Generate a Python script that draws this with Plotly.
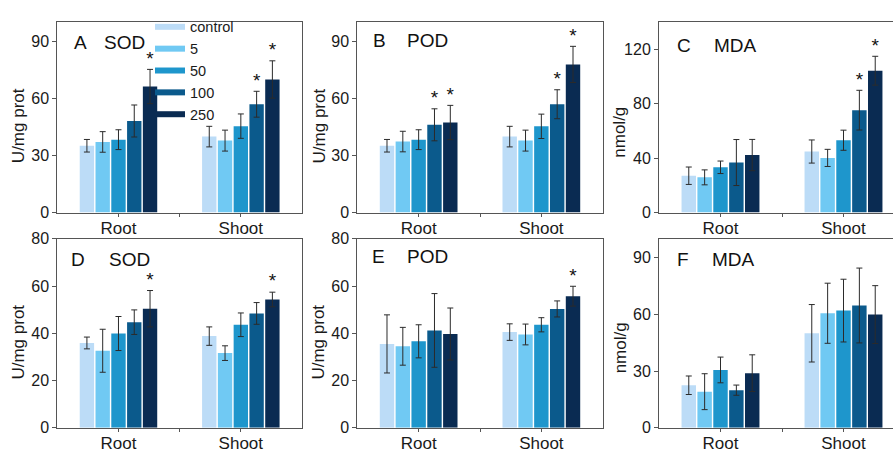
import plotly.graph_objects as go

# ---------------- data ----------------
groups = ["Root", "Shoot"]
series = ["control", "5", "50", "100", "250"]
colors = ["#bcdcf7", "#70c9f3", "#1e96cc", "#0b5a8c", "#0a2b52"]

# Panel A  SOD
A_root = [35.1, 37.1, 38.3, 48.1, 66.2]
A_root_err = [3.3, 5.4, 5.2, 8.4, 9.0]
A_shoot = [39.9, 37.8, 45.4, 56.9, 69.9]
A_shoot_err = [5.4, 5.5, 6.4, 6.8, 9.8]
A_root_sig = [0, 0, 0, 0, 1]
A_shoot_sig = [0, 0, 0, 1, 1]

# Panel B  POD
B_root = [35.1, 37.3, 38.3, 46.1, 47.3]
B_root_err = [3.3, 5.4, 5.2, 8.4, 9.0]
B_shoot = [39.9, 37.8, 45.3, 56.9, 77.8]
B_shoot_err = [5.4, 5.5, 6.4, 7.6, 9.5]
B_root_sig = [0, 0, 0, 1, 1]
B_shoot_sig = [0, 0, 0, 1, 1]

# Panel C  MDA
C_root = [27.1, 25.9, 33.3, 36.8, 42.3]
C_root_err = [6.4, 5.5, 4.6, 16.9, 11.5]
C_shoot = [44.9, 40.2, 53.2, 75.3, 104.3]
C_shoot_err = [8.5, 6.3, 7.4, 14.6, 10.6]
C_root_sig = [0, 0, 0, 0, 0]
C_shoot_sig = [0, 0, 0, 1, 1]

# Panel D  SOD
D_root = [35.9, 32.6, 39.9, 44.7, 50.4]
D_root_err = [2.5, 9.1, 7.2, 5.2, 7.7]
D_shoot = [38.8, 31.6, 43.6, 48.4, 54.3]
D_shoot_err = [3.9, 3.1, 5.0, 4.6, 3.1]
D_root_sig = [0, 0, 0, 0, 1]
D_shoot_sig = [0, 0, 0, 0, 1]

# Panel E  POD
E_root = [35.5, 34.5, 36.6, 41.2, 39.7]
E_root_err = [12.3, 8.0, 7.0, 15.6, 11.0]
E_shoot = [40.5, 39.5, 43.6, 50.3, 55.7]
E_shoot_err = [3.5, 4.4, 3.0, 3.4, 4.2]
E_root_sig = [0, 0, 0, 0, 0]
E_shoot_sig = [0, 0, 0, 0, 1]

# Panel F  MDA
F_root = [22.5, 19.1, 30.6, 19.9, 28.9]
F_root_err = [4.9, 9.5, 6.8, 2.7, 9.7]
F_shoot = [50.0, 60.6, 62.0, 64.7, 59.9]
F_shoot_err = [15.2, 15.9, 16.6, 19.8, 15.3]
F_root_sig = [0, 0, 0, 0, 0]
F_shoot_sig = [0, 0, 0, 0, 0]

panels = [
    dict(letter="A", name="SOD", root=A_root, rerr=A_root_err, shoot=A_shoot, serr=A_shoot_err,
         rsig=A_root_sig, ssig=A_shoot_sig, yrange=[0, 100], ytick=[0, 30, 60, 90], ytitle="U/mg prot"),
    dict(letter="B", name="POD", root=B_root, rerr=B_root_err, shoot=B_shoot, serr=B_shoot_err,
         rsig=B_root_sig, ssig=B_shoot_sig, yrange=[0, 100], ytick=[0, 30, 60, 90], ytitle="U/mg prot"),
    dict(letter="C", name="MDA", root=C_root, rerr=C_root_err, shoot=C_shoot, serr=C_shoot_err,
         rsig=C_root_sig, ssig=C_shoot_sig, yrange=[0, 140], ytick=[0, 40, 80, 120], ytitle="nmol/g"),
    dict(letter="D", name="SOD", root=D_root, rerr=D_root_err, shoot=D_shoot, serr=D_shoot_err,
         rsig=D_root_sig, ssig=D_shoot_sig, yrange=[0, 80], ytick=[0, 20, 40, 60, 80], ytitle="U/mg prot"),
    dict(letter="E", name="POD", root=E_root, rerr=E_root_err, shoot=E_shoot, serr=E_shoot_err,
         rsig=E_root_sig, ssig=E_shoot_sig, yrange=[0, 80], ytick=[0, 20, 40, 60, 80], ytitle="U/mg prot"),
    dict(letter="F", name="MDA", root=F_root, rerr=F_root_err, shoot=F_shoot, serr=F_shoot_err,
         rsig=F_root_sig, ssig=F_shoot_sig, yrange=[0, 100], ytick=[0, 30, 60, 90], ytitle="nmol/g"),
]

# ---------------- layout geometry ----------------
W, H = 893, 457
FONT = "Arial, 'Liberation Sans', sans-serif"
xdom_px = [(57.3, 302.0), (357.3, 602.7), (659.0, 893.0)]
ydom_px = [(14.7, 212.5), (239.7, 436.0)]
cat_px = [122.35, 122.7, 123.0]  # pixel width of one category slot
ytitle_px = [(19.2, 122.5), (319.0, 123.0), (619.5, 129.0),
             (19.0, 347.5), (319.0, 347.5), (620.5, 353.0)]
letter_pos = [(0.060, 0.183, 0.894), (0.056, 0.194, 0.904), (0.069, 0.226, 0.877),
              (0.049, 0.203, 0.889), (0.052, 0.194, 0.906), (0.069, 0.216, 0.892)]

slot = 0.129          # bar slot width in category units
barw = slot * 0.91    # visible bar width
fig = go.Figure()

for p, pn in enumerate(panels):
    row, col = divmod(p, 3)
    k = p + 1
    xa = "x" if k == 1 else f"x{k}"
    ya = "y" if k == 1 else f"y{k}"
    for i, s in enumerate(series):
        off = (i - 2) * slot
        xs = [g + off for g in range(len(groups))]
        ys = [pn["root"][i], pn["shoot"][i]]
        es = [pn["rerr"][i], pn["serr"][i]]
        fig.add_trace(go.Bar(
            x=xs, y=ys, width=barw, xaxis=xa, yaxis=ya,
            marker=dict(color=colors[i], line=dict(width=0)),
            error_y=dict(type="data", array=es, visible=True, color="#2b2b2b",
                         thickness=1, width=3),
            showlegend=False, name=s))
        sig = [pn["rsig"][i], pn["ssig"][i]]
        sx = [xs[j] for j in range(2) if sig[j]]
        sy = [ys[j] + es[j] for j in range(2) if sig[j]]
        if sx:
            fig.add_trace(go.Scatter(
                x=sx, y=sy, mode="text", text=["*"] * len(sx), textposition="top center",
                textfont=dict(size=19, color="#111", family=FONT),
                xaxis=xa, yaxis=ya, showlegend=False, hoverinfo="skip"))

    x0, x1 = xdom_px[col]
    y0, y1 = ydom_px[row]
    ncat = (x1 - x0) / cat_px[col]
    common = dict(showline=True, linecolor="#555", linewidth=1, ticks="outside",
                  tickcolor="#555", zeroline=False, showgrid=False)
    fig.layout[("xaxis" if k == 1 else f"xaxis{k}")] = dict(
        domain=[x0 / W, x1 / W], anchor=ya, range=[-0.5, -0.5 + ncat],
        tickvals=[0, 1], ticktext=groups, mirror=True, ticklen=3,
        ticklabelstandoff=-3,
        minor=dict(tickvals=[0.5], ticks="outside", ticklen=3, tickcolor="#555"),
        tickfont=dict(size=17, color="#1a1a1a", family=FONT), **common)
    fig.layout[("yaxis" if k == 1 else f"yaxis{k}")] = dict(
        domain=[1 - y1 / H, 1 - y0 / H], anchor=xa, range=pn["yrange"],
        tickvals=pn["ytick"], mirror=(col != 2), ticklen=4,
        tickfont=dict(size=16, color="#1a1a1a", family=FONT), **common)
    tx, ty = ytitle_px[p]
    fig.add_annotation(text=pn["ytitle"], xref="paper", yref="paper",
                       x=tx / W, y=1 - ty / H, xanchor="center", yanchor="middle",
                       textangle=-90, showarrow=False,
                       font=dict(size=17, color="#1a1a1a", family=FONT))
    lx, nx, ly = letter_pos[p]
    fig.add_annotation(text=pn["letter"], xref=f"{xa} domain", yref=f"{ya} domain",
                       x=lx, y=ly, xanchor="left", yanchor="middle", showarrow=False,
                       font=dict(size=19, color="#111", family=FONT))
    fig.add_annotation(text=pn["name"], xref=f"{xa} domain", yref=f"{ya} domain",
                       x=nx, y=ly, xanchor="left", yanchor="middle", showarrow=False,
                       font=dict(size=19, color="#111", family=FONT))

# legend entries (dummy line traces so keys look like short thick bars)
for i, s in enumerate(series):
    fig.add_trace(go.Scatter(x=[None], y=[None], mode="lines", name=s,
                             line=dict(color=colors[i], width=6), xaxis="x", yaxis="y"))

fig.update_layout(
    width=W, height=H, margin=dict(l=0, r=0, t=0, b=0),
    paper_bgcolor="white", plot_bgcolor="white",
    barmode="overlay",
    legend=dict(x=150 / W, y=1 - 3 / H, xanchor="left", yanchor="top",
                bgcolor="rgba(0,0,0,0)", font=dict(size=14.5, color="#1a1a1a", family=FONT),
                tracegroupgap=0),
    font=dict(family=FONT),
)

fig.write_html("out.html")
